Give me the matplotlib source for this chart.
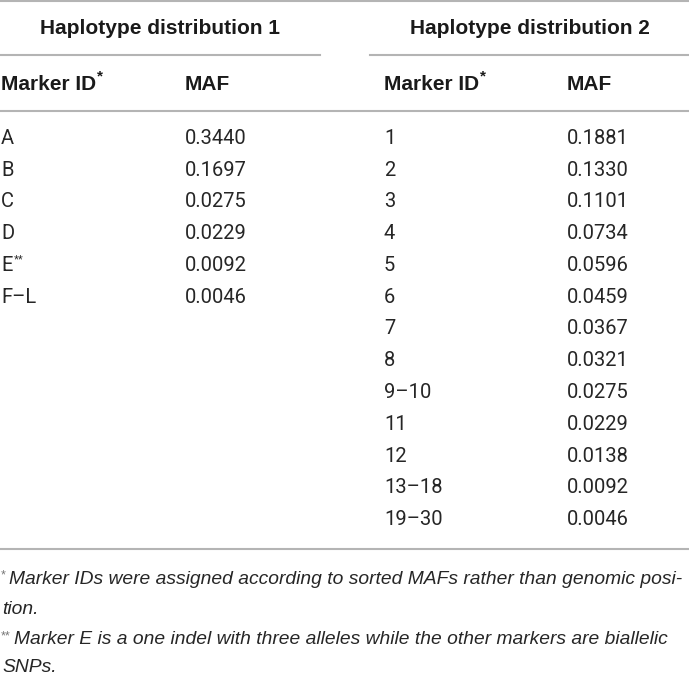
import matplotlib
matplotlib.use("Agg")
import matplotlib.pyplot as plt
from matplotlib.lines import Line2D

# --- Table data ---
dist1_ids = ["A", "B", "C", "D", "E", "F\u2013L"]
dist1_maf = [0.3440, 0.1697, 0.0275, 0.0229, 0.0092, 0.0046]
dist1_sup = ["", "", "", "", "**", ""]

dist2_ids = ["1", "2", "3", "4", "5", "6", "7", "8", "9\u201310", "11", "12",
             "13\u201318", "19\u201330"]
dist2_maf = [0.1881, 0.1330, 0.1101, 0.0734, 0.0596, 0.0459, 0.0367, 0.0321,
             0.0275, 0.0229, 0.0138, 0.0092, 0.0046]

titles = ["Haplotype distribution 1", "Haplotype distribution 2"]
col_heads = ["Marker ID", "MAF"]
notes = [("*", "Marker IDs were assigned according to sorted MAFs rather than genomic posi-"),
         ("", "tion."),
         ("**", "Marker E is a one indel with three alleles while the other markers are biallelic"),
         ("", "SNPs.")]

W, H = 689, 675
fig = plt.figure(figsize=(W / 100, H / 100), dpi=100)
fig.patch.set_facecolor("white")

HEAD_FONT = "Liberation Sans"
BODY_FONT = "Roboto"
INK = "#1a1a1a"
BODY_INK = "#262626"
RULE = "#b4b4b4"


def px(x, y):
    return x / W, 1 - y / H


def text(x, y, s, size=14, weight="normal", style="normal", color=INK, ha="left",
         family=HEAD_FONT):
    fx, fy = px(x, y)
    return fig.text(fx, fy, s, fontsize=size, fontweight=weight, fontstyle=style,
                    color=color, ha=ha, va="baseline", family=family)


def body(x, y, s):
    return text(x, y, s, size=14.5, color=BODY_INK, family=BODY_FONT)


def rule(x0, x1, y):
    (a, b), (c, d) = px(x0, y), px(x1, y)
    fig.add_artist(Line2D([a, c], [b, d], color=RULE, lw=1.5,
                          transform=fig.transFigure))


renderer = fig.canvas.get_renderer()


def sup(t, s, size=10, dy=-8, weight="normal", color=INK):
    bb = t.get_window_extent(renderer)
    y_base = H - t.get_position()[1] * H
    return text(bb.x1 + 1, y_base + dy, s, size=size, weight=weight, color=color)


# rules
rule(0, W, 1)
rule(0, 320, 55)
rule(370, W, 55)
rule(0, W, 111)
rule(0, W, 549)

# group titles
text(160, 34.5, titles[0], size=15, weight="bold", ha="center")
text(530, 34.5, titles[1], size=15, weight="bold", ha="center")

# column headers
cols = [(1, 185), (384, 567)]
for xid, xmaf in cols:
    t = text(xid, 89.5, col_heads[0], size=15, weight="bold")
    sup(t, "*", size=11, dy=-9, weight="bold")
    text(xmaf, 89.5, col_heads[1], size=15, weight="bold")

# rows
row0, step = 144, 31.75
for i, (mid, maf, s) in enumerate(zip(dist1_ids, dist1_maf, dist1_sup)):
    y = row0 + i * step
    t = body(cols[0][0], y, mid)
    if s:
        sup(t, s, size=9, dy=-8, color=BODY_INK)
    body(cols[0][1], y, f"{maf:.4f}")

for i, (mid, maf) in enumerate(zip(dist2_ids, dist2_maf)):
    y = row0 + i * step
    body(cols[1][0], y, mid)
    body(cols[1][1], y, f"{maf:.4f}")

# footnotes
ny = [583.5, 614.5, 644.5, 672]
for (mark, s), y in zip(notes, ny):
    if mark:
        text(1, y - 5, mark, size=9, color="#777777")
        x0 = 9 if mark == "*" else 14
    else:
        x0 = 2
    text(x0, y, s, size=13.85, style="italic", color=BODY_INK)

fig.savefig("out.png", dpi=100, facecolor="white")
